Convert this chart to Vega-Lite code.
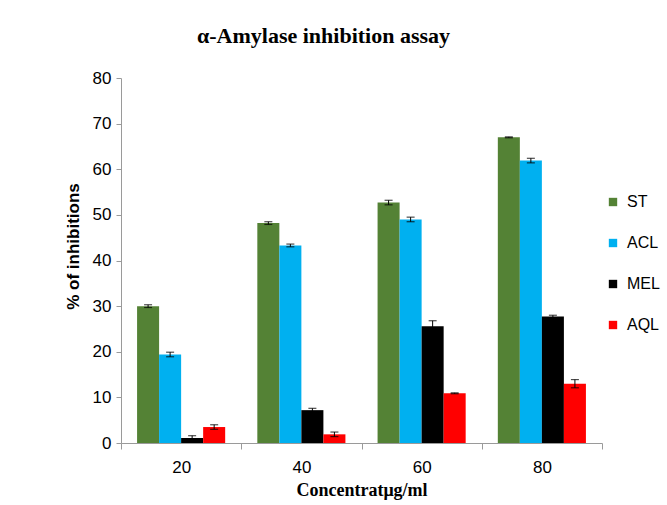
{
  "$schema": "https://vega.github.io/schema/vega-lite/v6.json",
  "width": 481,
  "height": 365,
  "autosize": "none",
  "padding": {"left": 121, "top": 78, "right": 65, "bottom": 62},
  "background": "white",
  "title": {"text": "α-Amylase inhibition assay", "font": "Liberation Serif", "fontSize": 22, "fontWeight": "bold", "color": "black", "anchor": "middle", "dx": -38, "offset": 21},
  "data": {"values": [
    {"conc": "20", "series": "ST", "value": 30.0, "lo": 29.7, "hi": 30.3},
    {"conc": "20", "series": "ACL", "value": 19.4, "lo": 18.9, "hi": 19.9},
    {"conc": "20", "series": "MEL", "value": 1.1, "lo": 0.6, "hi": 1.6},
    {"conc": "20", "series": "AQL", "value": 3.5, "lo": 3.0, "hi": 4.0},
    {"conc": "40", "series": "ST", "value": 48.2, "lo": 47.9, "hi": 48.5},
    {"conc": "40", "series": "ACL", "value": 43.3, "lo": 43.0, "hi": 43.6},
    {"conc": "40", "series": "MEL", "value": 7.2, "lo": 6.8, "hi": 7.6},
    {"conc": "40", "series": "AQL", "value": 1.9, "lo": 1.4, "hi": 2.4},
    {"conc": "60", "series": "ST", "value": 52.7, "lo": 52.2, "hi": 53.2},
    {"conc": "60", "series": "ACL", "value": 49.0, "lo": 48.5, "hi": 49.5},
    {"conc": "60", "series": "MEL", "value": 25.6, "lo": 24.4, "hi": 26.8},
    {"conc": "60", "series": "AQL", "value": 10.9, "lo": 10.8, "hi": 11.0},
    {"conc": "80", "series": "ST", "value": 67.0, "lo": 66.9, "hi": 67.1},
    {"conc": "80", "series": "ACL", "value": 61.9, "lo": 61.4, "hi": 62.4},
    {"conc": "80", "series": "MEL", "value": 27.7, "lo": 27.4, "hi": 28.0},
    {"conc": "80", "series": "AQL", "value": 13.0, "lo": 12.1, "hi": 13.9}
  ]},
  "encoding": {
    "x": {
      "field": "conc", "type": "nominal", "sort": ["20", "40", "60", "80"],
      "scale": {"paddingInner": 0, "paddingOuter": 0},
      "axis": {
        "title": "Concentratμg/ml", "titleFont": "Liberation Serif", "titleFontSize": 18, "titleFontWeight": "bold", "titleColor": "black", "titlePadding": 6,
        "labelAngle": 0, "labelFont": "Liberation Sans", "labelFontSize": 17, "labelColor": "black", "labelPadding": 10,
        "tickBand": "extent", "tickSize": 6, "tickColor": "#9a9a9a", "domainColor": "#9a9a9a", "grid": false
      }
    },
    "xOffset": {"field": "series", "type": "nominal", "sort": ["ST", "ACL", "MEL", "AQL"], "scale": {"paddingInner": 0, "paddingOuter": 0.73}}
  },
  "layer": [
    {
      "mark": {"type": "bar"},
      "encoding": {
        "y": {
          "field": "value", "type": "quantitative", "title": "% of inhibitions",
          "scale": {"domain": [0, 80], "nice": false},
          "axis": {
            "values": [0, 10, 20, 30, 40, 50, 60, 70, 80], "grid": false,
            "labelFont": "Liberation Sans", "labelFontSize": 17, "labelColor": "black", "labelPadding": 5,
            "tickSize": 5, "tickColor": "#9a9a9a", "domainColor": "#9a9a9a",
            "titleFont": "Liberation Sans", "titleFontSize": 17, "titleFontWeight": "bold", "titleColor": "black", "titlePadding": 10, "titleY": 168
          }
        },
        "color": {
          "field": "series", "type": "nominal",
          "scale": {"domain": ["ST", "ACL", "MEL", "AQL"], "range": ["#548235", "#00B0F0", "#000000", "#FF0000"]},
          "legend": {
            "title": null, "orient": "none", "legendX": 484, "legendY": 116,
            "symbolType": "square", "symbolSize": 70, "symbolStrokeWidth": 0,
            "labelFont": "Liberation Sans", "labelFontSize": 16, "labelColor": "black", "labelOffset": 6, "rowPadding": 25
          }
        }
      }
    },
    {
      "mark": {"type": "rule", "color": "black", "strokeWidth": 1},
      "encoding": {
        "y": {"field": "lo", "type": "quantitative", "title": "% of inhibitions"},
        "y2": {"field": "hi"}
      }
    },
    {
      "mark": {"type": "tick", "color": "black", "size": 8, "thickness": 1.2, "orient": "horizontal"},
      "encoding": {"y": {"field": "lo", "type": "quantitative", "title": "% of inhibitions"}}
    },
    {
      "mark": {"type": "tick", "color": "black", "size": 8, "thickness": 1.2, "orient": "horizontal"},
      "encoding": {"y": {"field": "hi", "type": "quantitative", "title": "% of inhibitions"}}
    }
  ],
  "config": {"view": {"stroke": null}}
}
